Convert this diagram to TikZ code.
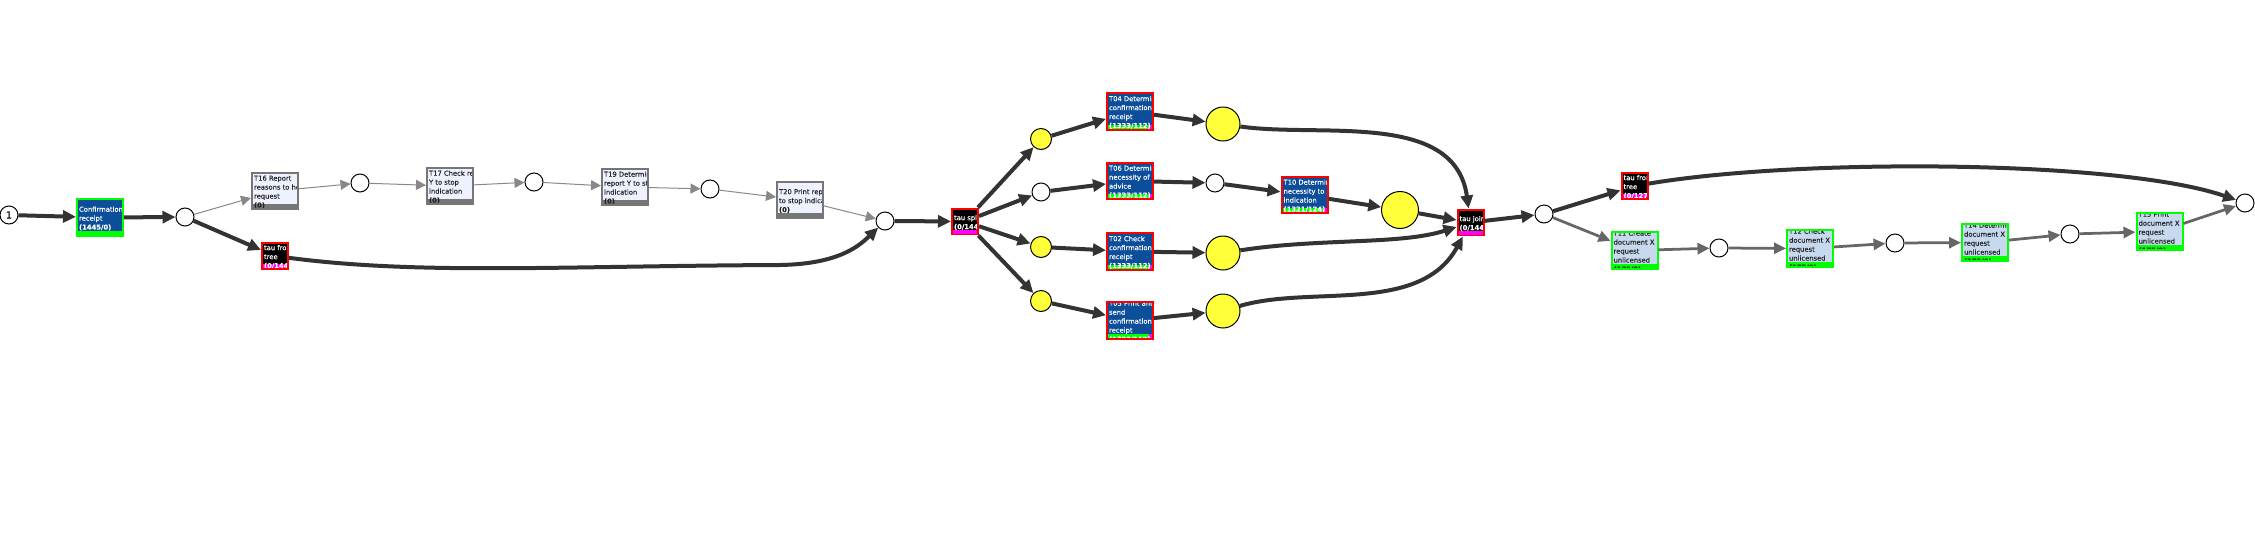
\documentclass[tikz,border=0pt]{standalone}
\usepackage{fontspec}
\newfontfamily\netfont[FakeBold=0.3]{DejaVu Sans}
\usetikzlibrary{arrows.meta,calc}

\definecolor{tblue}{HTML}{0C4E9A}
\definecolor{tpale}{HTML}{EEF2FF}
\definecolor{tsky}{HTML}{C6D9EE}
\definecolor{tgray}{HTML}{767676}
\definecolor{pyellow}{HTML}{FFFF3A}
\definecolor{pgreen}{HTML}{00FF00}
\definecolor{pred}{HTML}{FF0000}
\definecolor{pmagenta}{HTML}{FF00FF}
\definecolor{arcdark}{HTML}{333333}
\definecolor{arcmid}{HTML}{666666}
\definecolor{arclight}{HTML}{888888}

\begin{document}
\begin{tikzpicture}[x=0.02cm, y=-0.02cm,
  place/.style={circle, draw, line width=0.02cm, fill=white, minimum size=0.36cm, inner sep=0pt},
  token/.style={place, fill=pyellow, minimum size=0.42cm},
  bigtoken/.style={place, fill=pyellow, minimum size=0.68cm},
  trans/.style={rectangle, draw, line width=0.04cm, minimum width=0.92cm, minimum height=0.74cm, inner sep=0pt},
  tau/.style={trans, minimum width=0.52cm, minimum height=0.52cm, fill=black, draw=pred,
    /utils/exec={\colorlet{boxtxt}{white}\colorlet{barok}{pmagenta}\colorlet{barbad}{pmagenta}}},
  okbox/.style={fill=tblue, draw=pgreen,
    /utils/exec={\colorlet{boxtxt}{white}\colorlet{barok}{pgreen}\colorlet{barbad}{pmagenta}}},
  movebox/.style={fill=tblue, draw=pred,
    /utils/exec={\colorlet{boxtxt}{white}\colorlet{barok}{pgreen}\colorlet{barbad}{pmagenta}}},
  idlebox/.style={fill=tpale, draw=tgray,
    /utils/exec={\colorlet{boxtxt}{black!85}\colorlet{barok}{tgray}\colorlet{barbad}{tgray}}},
  fitbox/.style={fill=tsky, draw=pgreen,
    /utils/exec={\colorlet{boxtxt}{black!85}\colorlet{barok}{pgreen}\colorlet{barbad}{pmagenta}}},
  info/.style 2 args={path picture={
      \fill[barbad] (path picture bounding box.south west) rectangle ([yshift=0.1cm]path picture bounding box.south east);
      \fill[barok] (path picture bounding box.south west) rectangle ([yshift=0.1cm]$(path picture bounding box.south west)!#1!(path picture bounding box.south east)$);
      \node (boxtext) [anchor=west, align=left, inner sep=0.6pt, minimum width=0pt, minimum height=0pt,
        draw=none, fill=none, text=boxtxt, font=\netfont\fontsize{3.85}{5.1}\selectfont]
        at ([yshift=-0.02cm]path picture bounding box.west) {#2};
    }},
  arc/.style={draw=arcdark, line width=0.08cm, -{Triangle[length=0.26cm, width=0.24cm]}},
  midarc/.style={draw=arcmid, line width=0.055cm, -{Triangle[length=0.24cm, width=0.22cm]}},
  thinarc/.style={draw=arclight, line width=0.02cm, -{Triangle[length=0.2cm, width=0.2cm]}}
  ]
  \useasboundingbox (0,0) rectangle (2255,534);

  % left part
  \node (source) [place, font=\netfont\fontsize{5.5}{6}\selectfont] at (9,215) {1};
  \node (conf) [trans, okbox, info={1}{Confirmation o\\receipt\\\textbf{(1445/0)}}] at (100,217.5) {};
  \node (p1) [place] at (185,217) {};
  \node (t16) [trans, idlebox, info={1}{T16 Report\\reasons to hol\\request\\\textbf{(0)}}] at (275,191) {};
  \node (p2) [place] at (360,183) {};
  \node (t17) [trans, idlebox, info={1}{T17 Check rep\\Y to stop\\indication\\\textbf{(0)}}] at (450,186) {};
  \node (p3) [place] at (534,182) {};
  \node (t19) [trans, idlebox, info={1}{T19 Determine\\report Y to sto\\indication\\\textbf{(0)}}] at (625,187) {};
  \node (p4) [place] at (710,189) {};
  \node (t20) [trans, idlebox, info={1}{T20 Print repor\\to stop indicat\\\textbf{(0)}}] at (800,200) {};
  \node (tree1) [tau, info={0}{tau from\\tree\\\textbf{(0/1445)}}] at (275,256) {};
  \node (p5) [place] at (885,221) {};

  % parallel part
  \node (split) [tau, info={0}{tau split\\\textbf{(0/1445)}}] at (965,221.5) {};
  \node (y1) [token] at (1041,139) {};
  \node (w2) [place] at (1041,192) {};
  \node (y3) [token] at (1041,247) {};
  \node (y4) [token] at (1041,301) {};
  \node (t04) [trans, movebox, info={0.92}{T04 Determine\\confirmation o\\receipt\\\textbf{(1333/112)}}] at (1130,111.5) {};
  \node (t06) [trans, movebox, info={0.92}{T06 Determine\\necessity of s\\advice\\\textbf{(1333/112)}}] at (1130,181) {};
  \node (t02) [trans, movebox, info={0.92}{T02 Check\\confirmation o\\receipt\\\textbf{(1333/112)}}] at (1130,251.5) {};
  \node (t05) [trans, movebox, info={0.92}{T05 Print and\\send\\confirmation o\\receipt\\\textbf{(1333/112)}}] at (1130,320.5) {};
  \node (y04) [bigtoken] at (1223,124) {};
  \node (w6) [place] at (1215,183) {};
  \node (y02) [bigtoken] at (1223,253) {};
  \node (y05) [bigtoken] at (1223,311) {};
  \node (t10) [trans, movebox, info={0.91}{T10 Determine\\necessity to s\\indication\\\textbf{(1321/124)}}] at (1304.5,195) {};
  \node (y10) [bigtoken, minimum size=0.74cm] at (1400,210) {};
  \node (join) [tau, info={0}{tau join\\\textbf{(0/1445)}}] at (1470.5,222.5) {};

  % right part
  \node (p6) [place] at (1544,214) {};
  \node (tree2) [tau, info={0}{tau from\\tree\\\textbf{(0/1270)}}] at (1634.5,186) {};
  \node (t11) [trans, fitbox, info={1}{T11 Create\\document X\\request\\unlicensed\\\textbf{(175/0)}}] at (1634.5,250.5) {};
  \node (p7) [place] at (1719,248) {};
  \node (t12) [trans, fitbox, info={1}{T12 Check\\document X\\request\\unlicensed\\\textbf{(175/0)}}] at (1810,248.5) {};
  \node (p8) [place] at (1895,243) {};
  \node (t14) [trans, fitbox, info={1}{T14 Determine\\document X\\request\\unlicensed\\\textbf{(175/0)}}] at (1985,242.5) {};
  \node (p9) [place] at (2070,234) {};
  \node (t15) [trans, fitbox, info={1}{T15 Print\\document X\\request\\unlicensed\\\textbf{(175/0)}}] at (2159.5,231.5) {};
  \node (sink) [place] at (2245,203) {};

  % arcs
  \draw[arc] (source) -- (conf);
  \draw[arc] (conf) -- (p1);
  \draw[arc] (p1) -- (tree1);
  \draw[thinarc] (p1) -- (t16);
  \draw[thinarc] (t16) -- (p2);
  \draw[thinarc] (p2) -- (t17);
  \draw[thinarc] (t17) -- (p3);
  \draw[thinarc] (p3) -- (t19);
  \draw[thinarc] (t19) -- (p4);
  \draw[thinarc] (p4) -- (t20);
  \draw[thinarc] (t20) -- (p5);
  \draw[arc] (tree1) .. controls (420,275) and (560,266) .. (780,265) .. controls (840,264) and (860,245) .. (p5);
  \draw[arc] (p5) -- (split);
  \draw[arc] (split) -- (y1);
  \draw[arc] (split) -- (w2);
  \draw[arc] (split) -- (y3);
  \draw[arc] (split) -- (y4);
  \draw[arc] (y1) -- (t04);
  \draw[arc] (w2) -- (t06);
  \draw[arc] (y3) -- (t02);
  \draw[arc] (y4) -- (t05);
  \draw[arc] (t04) -- (y04);
  \draw[arc] (t06) -- (w6);
  \draw[arc] (t02) -- (y02);
  \draw[arc] (t05) -- (y05);
  \draw[arc] (w6) -- (t10);
  \draw[arc] (t10) -- (y10);
  \draw[arc] (y04) .. controls (1320,138) and (1455,110) .. (join);
  \draw[arc] (y10) -- (join);
  \draw[arc] (y02) .. controls (1320,238) and (1400,245) .. (join);
  \draw[arc] (y05) .. controls (1310,285) and (1420,315) .. (join);
  \draw[arc] (join) -- (p6);
  \draw[arc] (p6) -- (tree2);
  \draw[arc] (tree2) .. controls (1800,158) and (2120,160) .. (sink);
  \draw[midarc] (p6) -- (t11);
  \draw[midarc] (t11) -- (p7);
  \draw[midarc] (p7) -- (t12);
  \draw[midarc] (t12) -- (p8);
  \draw[midarc] (p8) -- (t14);
  \draw[midarc] (t14) -- (p9);
  \draw[midarc] (p9) -- (t15);
  \draw[midarc] (t15) -- (sink);
\end{tikzpicture}
\end{document}
